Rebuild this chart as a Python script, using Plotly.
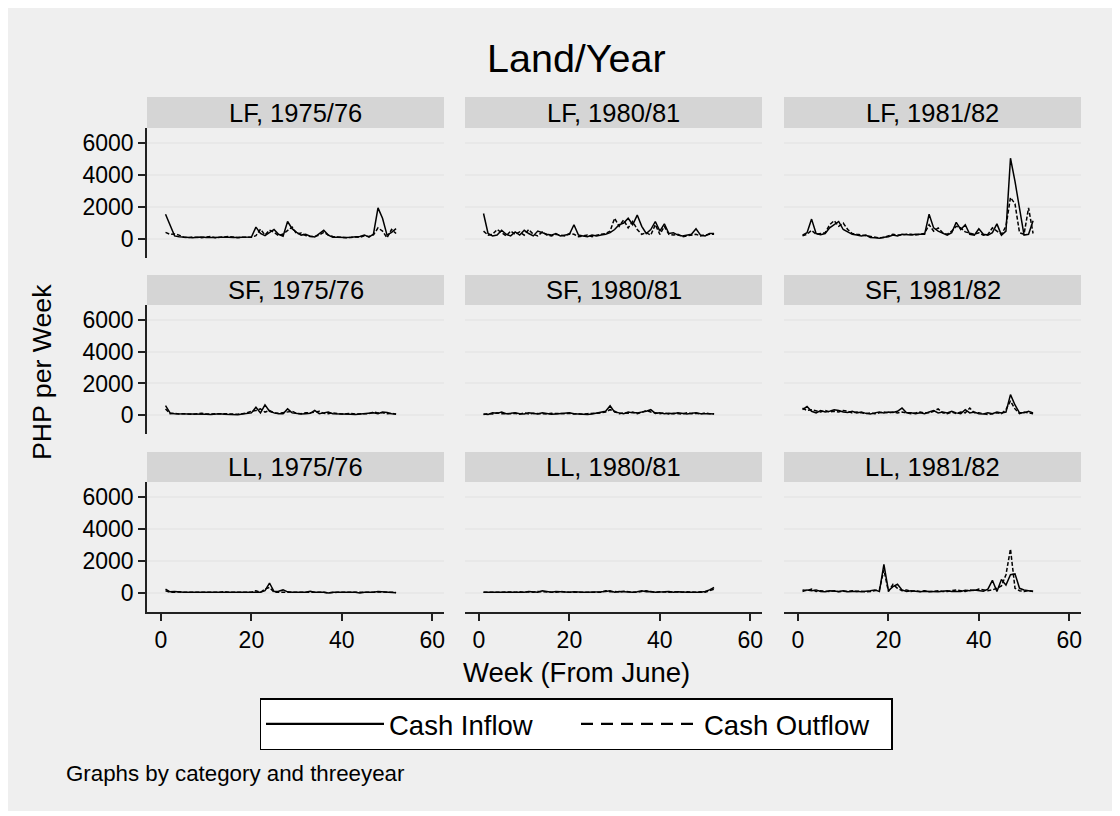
import plotly.graph_objects as go

# The page body adds an 8px margin, so the figure is drawn at (8, 8).
OFF = 8
W, H = 1120 - OFF, 816 - OFF
weeks = list(range(1, 53))

# ---- data (PHP per week), weeks 1..52 ----
LF75_in = [1550, 850, 200, 150, 120, 100, 90, 110, 130, 100, 90, 100, 120,
           140, 120, 100, 110, 90, 100, 130, 750, 350, 220, 400, 600, 300,
           180, 1100, 650, 420, 250, 300, 180, 130, 350, 550, 250, 120, 110,
           90, 100, 110, 130, 160, 260, 120, 320, 1950, 1300, 250, 420, 650]
LF75_out = [420, 300, 320, 250, 120, 90, 130, 110, 90, 130, 160, 90, 110,
            100, 160, 130, 90, 110, 130, 110, 220, 620, 260, 560, 420, 220,
            320, 520, 750, 320, 380, 220, 160, 160, 260, 420, 260, 160, 130,
            110, 90, 100, 130, 110, 210, 160, 260, 700, 500, 80, 600, 350]
LF80_in = [1600, 350, 200, 250, 550, 300, 200, 450, 250, 550, 350, 200, 500,
           400, 300, 250, 350, 200, 250, 300, 900, 250, 200, 150, 250, 200,
           250, 300, 400, 600, 900, 1000, 1300, 900, 1500, 800, 350, 600, 1100,
           500, 950, 350, 400, 250, 200, 250, 300, 650, 250, 200, 350, 350]
LF80_out = [500, 250, 300, 600, 400, 200, 500, 300, 450, 250, 600, 300, 200,
            450, 250, 200, 300, 250, 200, 350, 300, 150, 200, 250, 150, 250,
            300, 350, 500, 1300, 800, 1200, 700, 1100, 600, 300, 400, 250, 900,
            300, 800, 300, 250, 300, 150, 200, 250, 300, 200, 250, 300, 300]
LF81_in = [250, 400, 1250, 350, 280, 350, 700, 900, 1100, 600, 450, 300, 250,
           200, 250, 100, 80, 50, 120, 150, 250, 200, 300, 280, 250, 300,
           280, 300, 1550, 700, 500, 350, 250, 400, 1050, 600, 900, 300, 250,
           650, 300, 250, 400, 950, 250, 500, 5050, 3600, 1950, 250, 300, 1150]
LF81_out = [200, 300, 550, 300, 350, 400, 900, 1150, 800, 1000, 600, 350, 300,
            250, 200, 150, 120, 80, 100, 200, 300, 250, 250, 300, 300, 250,
            300, 350, 900, 500, 700, 400, 300, 500, 800, 700, 450, 350, 300,
            400, 250, 300, 700, 500, 300, 800, 2600, 2200, 400, 300, 1950, 350]
SF75_in = [600, 150, 100, 100, 80, 60, 80, 100, 80, 60, 50, 80, 100,
           70, 60, 20, 30, 80, 120, 150, 500, 150, 650, 250, 150, 100,
           100, 400, 150, 100, 80, 100, 120, 300, 100, 150, 200, 100, 80,
           100, 80, 60, 50, 80, 100, 150, 150, 100, 200, 180, 100, 80]
SF75_out = [400, 100, 120, 80, 100, 80, 60, 100, 120, 80, 70, 60, 90,
            100, 80, 50, 60, 100, 150, 250, 300, 400, 200, 300, 150, 120,
            150, 200, 250, 120, 100, 150, 150, 200, 250, 120, 100, 150, 100,
            80, 100, 120, 80, 100, 80, 100, 200, 150, 150, 100, 120, 70]
SF80_in = [80, 50, 150, 120, 200, 100, 120, 150, 100, 80, 150, 100, 80,
           150, 120, 60, 80, 100, 120, 150, 100, 80, 100, 50, 80, 150,
           200, 250, 600, 200, 150, 100, 200, 150, 150, 200, 250, 350, 120,
           150, 100, 120, 100, 150, 100, 80, 120, 150, 100, 120, 100, 80]
SF80_out = [50, 100, 80, 150, 100, 80, 100, 120, 60, 150, 80, 120, 100,
            100, 80, 120, 100, 80, 100, 120, 80, 100, 60, 100, 120, 100,
            150, 200, 350, 250, 100, 150, 120, 200, 100, 180, 300, 200, 150,
            100, 150, 80, 120, 100, 80, 150, 100, 120, 80, 150, 100, 100]
SF81_in = [350, 550, 250, 150, 300, 200, 250, 350, 300, 200, 180, 250, 150,
           200, 120, 80, 150, 200, 150, 200, 180, 250, 450, 150, 150, 100,
           150, 100, 200, 300, 150, 200, 150, 250, 150, 100, 350, 150, 200,
           100, 80, 150, 100, 200, 150, 200, 1300, 650, 150, 150, 250, 150]
SF81_out = [450, 300, 350, 250, 200, 300, 200, 250, 200, 300, 250, 150, 200,
            150, 100, 150, 100, 150, 200, 150, 200, 150, 200, 150, 100, 150,
            200, 150, 150, 250, 400, 150, 100, 200, 100, 200, 150, 450, 150,
            150, 100, 50, 100, 150, 100, 350, 900, 400, 100, 200, 150, 100]
LL75_in = [250, 80, 100, 60, 60, 60, 50, 50, 50, 50, 50, 50, 50,
           80, 50, 50, 50, 50, 50, 50, 50, 50, 150, 630, 100, 120,
           200, 80, 60, 60, 60, 60, 120, 50, 50, 50, 0, 50, 50,
           50, 50, 50, 50, 0, 50, 50, 50, 100, 80, 50, 50, 30]
LL75_out = [150, 60, 60, 80, 50, 50, 50, 50, 50, 50, 50, 50, 50,
            100, 50, 50, 50, 50, 50, 50, 150, 50, 250, 350, 60, 50,
            80, 50, 50, 50, 50, 50, 80, 50, 50, 50, 20, 50, 50,
            50, 50, 50, 30, 50, 50, 50, 60, 80, 60, 50, 50, 40]
LL80_in = [50, 50, 50, 80, 50, 50, 80, 50, 50, 50, 100, 80, 60,
           150, 100, 60, 100, 80, 50, 60, 80, 50, 50, 50, 50, 50,
           80, 100, 150, 60, 100, 80, 60, 50, 80, 150, 80, 100, 60,
           50, 80, 100, 60, 80, 50, 60, 50, 50, 50, 100, 200, 350]
LL80_out = [60, 50, 80, 50, 60, 80, 50, 60, 80, 50, 80, 60, 100,
            80, 60, 80, 50, 100, 60, 50, 50, 60, 50, 80, 60, 50,
            50, 150, 80, 100, 60, 120, 80, 60, 50, 100, 150, 80, 50,
            80, 50, 60, 80, 50, 60, 80, 60, 50, 80, 60, 150, 250]
LL81_in = [100, 200, 150, 200, 100, 80, 150, 120, 100, 150, 80, 100, 120,
           80, 100, 150, 200, 100, 1800, 150, 400, 550, 200, 100, 150, 100,
           80, 120, 100, 100, 80, 120, 150, 100, 120, 100, 180, 150, 200,
           150, 120, 250, 800, 100, 850, 500, 1150, 1200, 300, 200, 150, 100]
LL81_out = [200, 150, 250, 100, 150, 120, 100, 150, 80, 120, 100, 150, 100,
            120, 80, 100, 150, 200, 1450, 100, 550, 300, 150, 200, 100, 150,
            100, 150, 80, 120, 150, 100, 100, 150, 200, 150, 100, 200, 150,
            250, 200, 150, 200, 300, 450, 1150, 2750, 300, 150, 100, 150, 120]

panel_titles = ["LF, 1975/76", "LF, 1980/81", "LF, 1981/82",
                "SF, 1975/76", "SF, 1980/81", "SF, 1981/82",
                "LL, 1975/76", "LL, 1980/81", "LL, 1981/82"]
inflows = [LF75_in, LF80_in, LF81_in, SF75_in, SF80_in, SF81_in, LL75_in, LL80_in, LL81_in]
outflows = [LF75_out, LF80_out, LF81_out, SF75_out, SF80_out, SF81_out, LL75_out, LL80_out, LL81_out]
series_names = ["Cash Inflow", "Cash Outflow"]
y_ticks = [0, 2000, 4000, 6000]
x_ticks = [0, 20, 40, 60]

# ---- layout geometry (screen pixels) ----
col_px = [(147, 444), (465, 762), (784, 1081)]
row_px = [(128, 258), (305, 434), (482, 612)]
strip_px = [(97, 128), (275, 305), (452, 482)]
FONT = "Liberation Sans, Arial, sans-serif"
BG = "#efefef"
STRIP = "#d5d5d5"
GRID = "#e8e8e8"

def fx(px):
    return (px - OFF) / W

def fy(py):
    return 1 - (py - OFF) / H

fig = go.Figure()
layout = dict(
    width=W, height=H, margin=dict(l=0, r=0, t=0, b=0),
    paper_bgcolor="white", plot_bgcolor="white",
    font=dict(family=FONT, color="black"),
    showlegend=True,
)
shapes = [dict(type="rect", xref="paper", yref="paper", x0=0, x1=fx(1114),
               y0=fy(811), y1=1, fillcolor=BG, line=dict(width=0), layer="below")]
annotations = []

for i in range(9):
    r, c = divmod(i, 3)
    k = i + 1
    xa = "xaxis" if k == 1 else f"xaxis{k}"
    ya = "yaxis" if k == 1 else f"yaxis{k}"
    xref = "x" if k == 1 else f"x{k}"
    yref = "y" if k == 1 else f"y{k}"
    bottom = (r == 2)
    left = (c == 0)
    layout[xa] = dict(
        domain=[fx(col_px[c][0]), fx(col_px[c][1])], anchor=yref,
        range=[-3.1, 62.6], tickvals=x_ticks, showgrid=False, zeroline=False,
        showline=bottom, linecolor="#222", linewidth=1.5,
        ticks="outside" if bottom else "", ticklen=7, tickcolor="#222", tickwidth=1.5,
        showticklabels=bottom, tickfont=dict(size=23, family=FONT, color="black"),
    )
    layout[ya] = dict(
        domain=[fy(row_px[r][1]), fy(row_px[r][0])], anchor=xref,
        range=[-1180, 6940], tickvals=y_ticks, showgrid=True, gridcolor=GRID, gridwidth=1.5,
        zeroline=False,
        showline=left, linecolor="#222", linewidth=1.5,
        ticks="outside" if left else "", ticklen=7, tickcolor="#222", tickwidth=1.5,
        showticklabels=left, tickfont=dict(size=23, family=FONT, color="black"),
    )
    fig.add_trace(go.Scatter(x=weeks, y=inflows[i], mode="lines", xaxis=xref, yaxis=yref,
                             name=series_names[0], showlegend=False,
                             line=dict(color="black", width=1.5)))
    fig.add_trace(go.Scatter(x=weeks, y=outflows[i], mode="lines", xaxis=xref, yaxis=yref,
                             name=series_names[1], showlegend=False,
                             line=dict(color="black", width=1.5, dash="4px,2px")))
    shapes.append(dict(type="rect", xref="paper", yref="paper",
                       x0=fx(col_px[c][0]), x1=fx(col_px[c][1]),
                       y0=fy(strip_px[r][1]), y1=fy(strip_px[r][0]),
                       fillcolor=STRIP, line=dict(width=0), layer="below"))
    annotations.append(dict(text=panel_titles[i], xref="paper", yref="paper",
                            x=fx((col_px[c][0] + col_px[c][1]) / 2),
                            y=fy((strip_px[r][0] + strip_px[r][1]) / 2),
                            showarrow=False, xanchor="center", yanchor="middle",
                            font=dict(size=25.5, family=FONT, color="black")))

# legend-only traces
fig.add_trace(go.Scatter(x=[None], y=[None], mode="lines", name=series_names[0],
                         line=dict(color="black", width=2.4)))
fig.add_trace(go.Scatter(x=[None], y=[None], mode="lines", name=series_names[1],
                         line=dict(color="black", width=2.4, dash="12px,8px")))

annotations += [
    dict(text="Land/Year", xref="paper", yref="paper", x=fx(576), y=fy(58),
         showarrow=False, xanchor="center", yanchor="middle",
         font=dict(size=39.5, family=FONT, color="black")),
    dict(text="PHP per Week", xref="paper", yref="paper", x=fx(42), y=fy(372),
         showarrow=False, xanchor="center", yanchor="middle", textangle=-90,
         font=dict(size=26.7, family=FONT, color="black")),
    dict(text="Week (From June)", xref="paper", yref="paper", x=fx(576), y=fy(672),
         showarrow=False, xanchor="center", yanchor="middle",
         font=dict(size=27.5, family=FONT, color="black")),
    dict(text="Graphs by category and threeyear", xref="paper", yref="paper",
         x=fx(64), y=fy(773), showarrow=False, xanchor="left", yanchor="middle",
         font=dict(size=22.3, family=FONT, color="black")),
]

layout["shapes"] = shapes
layout["annotations"] = annotations
layout["legend"] = dict(
    orientation="h", x=fx(576), xanchor="center", y=fy(698), yanchor="top",
    bgcolor="white", bordercolor="black", borderwidth=1.5,
    font=dict(size=27.5, family=FONT, color="black"),
    itemwidth=118, entrywidth=182, entrywidthmode="pixels",
)
fig.update_layout(**layout)
fig.write_html("out.html")
